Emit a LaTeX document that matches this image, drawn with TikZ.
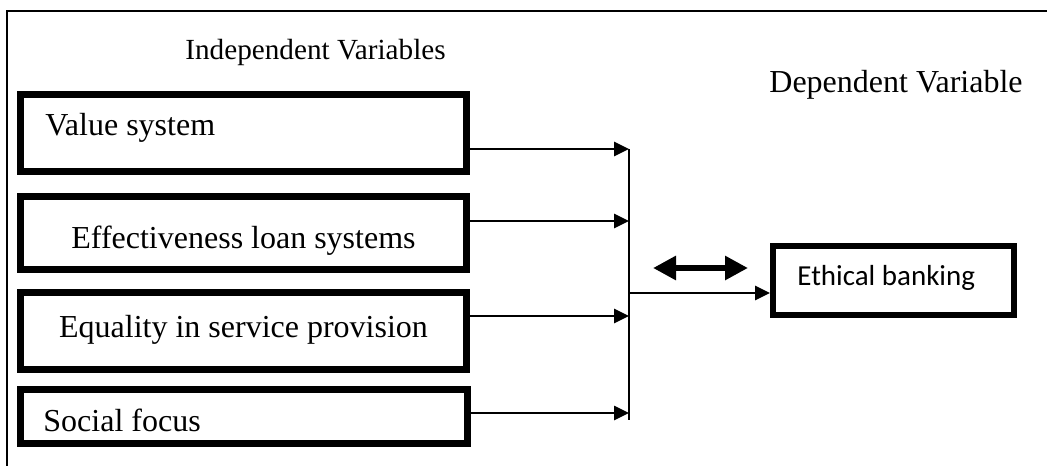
\documentclass[tikz,border=0pt]{standalone}
\usepackage{fontspec}
\setmainfont{Liberation Serif}
\newfontfamily\bodysans{Carlito}
\usetikzlibrary{arrows.meta}

\begin{document}
\begin{tikzpicture}[x=0.5pt,y=-0.5pt,
    varbox/.style={draw,line width=3.5pt,minimum width=223pt,inner sep=0pt},
    vartext/.style={font=\fontsize{16}{19}\selectfont,inner sep=0pt},
    feed/.style={line width=1.3pt,-{Triangle[length=7.5pt,width=7pt]}}]
  \useasboundingbox (0,0) rectangle (1047,466);
  \draw[line width=1.1pt] (1047,11)--(7,11)--(7,466);
  % headings
  \node[font=\fontsize{14.6}{17}\selectfont,inner sep=0pt,anchor=base west] (indep) at (185,59) {Independent Variables};
  \node[vartext,anchor=base west] (dep) at (769,92) {Dependent Variable};
  % independent variables
  \node[varbox,minimum height=38.5pt] (valsys) at (243.5,133) {};
  \node[varbox,minimum height=36.5pt] (loansys) at (243.5,233) {};
  \node[varbox,minimum height=38.5pt] (equal) at (243.5,331) {};
  \node[varbox,minimum height=27pt,minimum width=223.5pt] (social) at (244,416.5) {};
  \node[vartext,anchor=base west] (valsyslbl) at (45,135) {Value system};
  \node[vartext,anchor=base] (loansyslbl) at (243.5,248) {Effectiveness loan systems};
  \node[vartext,anchor=base] (equallbl) at (243.5,337) {Equality in service provision};
  \node[vartext,anchor=base west] (sociallbl) at (43,431) {Social focus};
  % dependent variable
  \node[draw,line width=3pt,minimum width=120.5pt,minimum height=34.5pt,inner sep=0pt] (ethic) at (893.5,280.5) {};
  \node[font=\bodysans\fontsize{14.5}{17}\selectfont,inner sep=0pt,anchor=base west] (ethiclbl) at (797,285) {Ethical banking};
  % connectors
  \coordinate (j1) at (629,149);
  \coordinate (j2) at (629,221);
  \coordinate (j3) at (629,316);
  \coordinate (j4) at (629,413);
  \coordinate (jend) at (629,420);
  \coordinate (jm) at (629,293);
  \draw[line width=1.1pt] (j1)--(jend);
  \draw[feed] (valsys.east |- j1)--(j1);
  \draw[feed] (loansys.east |- j2)--(j2);
  \draw[feed] (equal.east |- j3)--(j3);
  \draw[feed] (social.east |- j4)--(j4);
  \draw[feed] (jm)--(ethic.west |- jm);
  \coordinate (dl) at (653,268);
  \coordinate (dr) at (748,268);
  \draw[line width=3.3pt,{Triangle[length=11.5pt,width=11.5pt]}-{Triangle[length=11.5pt,width=11.5pt]}] (dl)--(dr);
\end{tikzpicture}
\end{document}
